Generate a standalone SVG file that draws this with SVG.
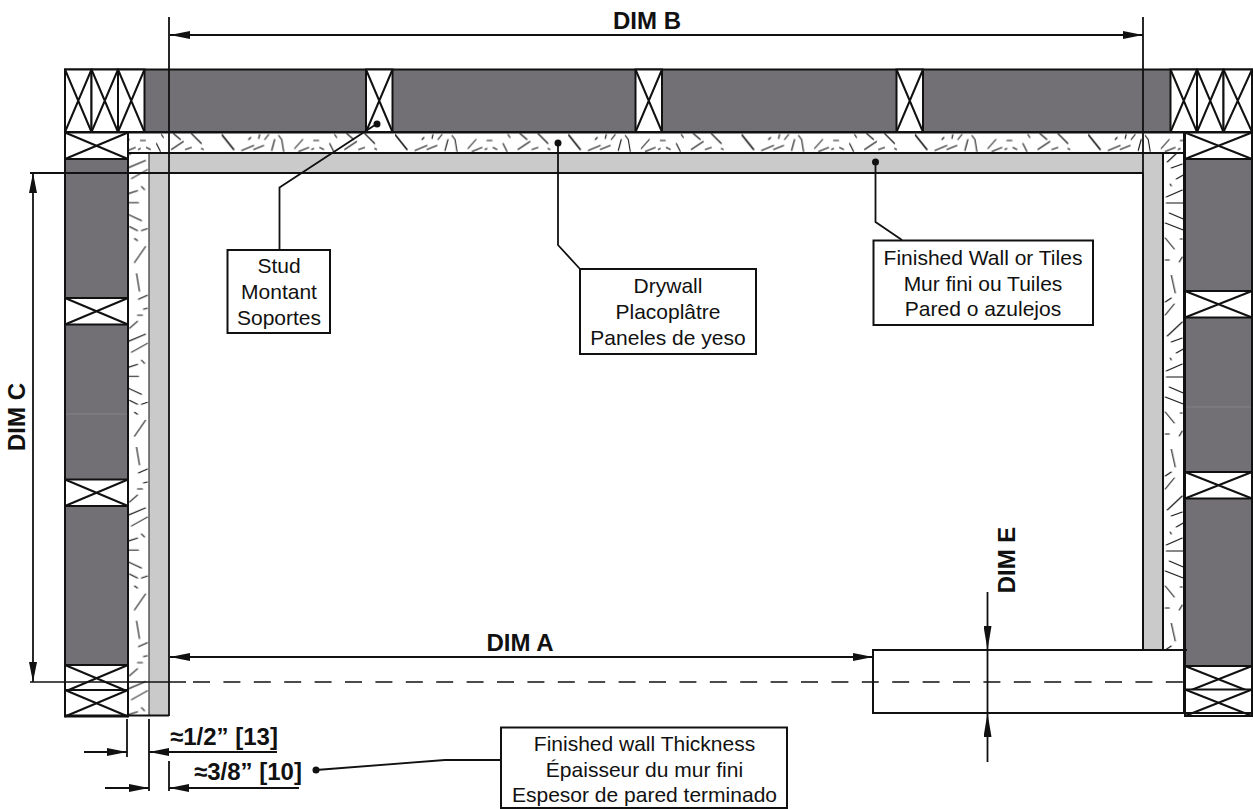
<svg xmlns="http://www.w3.org/2000/svg" width="1253" height="809" viewBox="0 0 1253 809">
<style>
text{font-family:"Liberation Sans",Arial,sans-serif;fill:#111}
.c{font-size:21px;text-anchor:middle}
.b{font-size:24px;font-weight:700}
.m{text-anchor:middle}
.dark{fill:#737075}
.fin{fill:#cacaca}
.o{fill:none;stroke:#111;stroke-width:2}
.w{fill:#fff;stroke:#111;stroke-width:2}
.t{fill:none;stroke:#111;stroke-width:2}
.l{fill:none;stroke:#111;stroke-width:1.8}
.h{stroke:#111;stroke-width:1.1;fill:none;stroke-linecap:round}
.box{fill:#fff;stroke:#111;stroke-width:2}
.dot{fill:#111}
</style>
<defs>
<pattern id="hatchTop" patternUnits="userSpaceOnUse" width="173.3" height="21" patternTransform="translate(395 132.5)">
<path class="h" style="stroke-width:1.6" d="M0 2L12 17"/>
<path class="h" d="M20 18L32 13M32 17L42 13M50 18L53 7M60 7L62 19M57 3L60 7M73 16L81 7M77 19L87 15M90 17L92 16M92 8L97 8M98 15L102 17M108 11L112 19M113 2L115 5M125 1L132 7M123 17L135 9M137 17L143 15M143 1L153 11M153 16L155 17M27 7L29 5M37 6L38 2M43 7L47 2"/>
</pattern>
<pattern id="hatchLeft" patternUnits="userSpaceOnUse" width="21" height="173.7" patternTransform="translate(128.5 273.3)">
<path class="h" d="M8 0L11 18M10 26L19 22M15 36L19 35M9 42L14 42M1 55L9 48M0 68L17 61M3 79L19 70M13 87L16 90M0 94L9 91M0 103L10 103M0 115L13 121M1 127L9 131M13 131L19 129M6 139L9 141M6 163L17 147"/>
</pattern>
<pattern id="hatchRight" patternUnits="userSpaceOnUse" width="21" height="174" patternTransform="translate(1164.3 275)">
<path class="h" d="M7 0L11 18M1 27L7 23M1 40L10 29M3 61L18 47M7 67L18 63M12 78L19 74M6 83L7 85M2 96L18 89M2 102L19 102M5 112L19 118M1 122L19 129M1 137L10 148M16 138L18 138M1 159L5 159M15 161L18 156"/>
</pattern>
<marker id="arr" viewBox="0 0 20 8" refX="20" refY="4" markerWidth="20" markerHeight="8" markerUnits="userSpaceOnUse" orient="auto-start-reverse"><path d="M0 0L20 4L0 8Z" fill="#111"/></marker>
<marker id="arrL" viewBox="0 0 24 8" refX="24" refY="4" markerWidth="24" markerHeight="8" markerUnits="userSpaceOnUse" orient="auto-start-reverse"><path d="M0 0L24 4L0 8Z" fill="#111"/></marker>
<g id="studH"><rect class="w" x="0" y="0" width="26.5" height="62.5"/><path class="t" d="M0 0L26.5 62.5M26.5 0L0 62.5"/></g>
<g id="studH2"><rect class="w" x="0" y="0" width="28.5" height="62.5"/><path class="t" d="M0 0L28.5 62.5M28.5 0L0 62.5"/></g>
<g id="studV"><rect class="w" x="0" y="0" width="63" height="26.5"/><path class="t" d="M0 0L63 26.5M63 0L0 26.5"/></g>
<g id="studVR"><rect class="w" x="0" y="0" width="67" height="26.5"/><path class="t" d="M0 0L67 26.5M67 0L0 26.5"/></g>
</defs>

<g id="top-wall">
<rect class="dark" x="65" y="69.5" width="1187" height="62.5"/>
<rect class="o" x="65" y="69.5" width="1187" height="62.5"/>
<use href="#studH" x="65" y="69.5"/><use href="#studH" x="91.5" y="69.5"/><use href="#studH" x="118" y="69.5"/>
<use href="#studH" x="366" y="69.5"/><use href="#studH" x="635.500" y="69.5"/><use href="#studH" x="896.500" y="69.5"/>
<use href="#studH" x="1170.500" y="69.5"/><use href="#studH" x="1197" y="69.5"/><use href="#studH2" x="1223.500" y="69.5"/>
</g>

<g id="left-wall">
<rect class="dark" x="65" y="159" width="63" height="506"/>
<rect class="o" x="65" y="159" width="63" height="506"/>
<path d="M66 414H127" stroke="#8b888c" stroke-width=".8"/>
<use href="#studV" x="65" y="132.500"/><use href="#studV" x="65" y="298"/><use href="#studV" x="65" y="479.500"/>
<use href="#studV" x="65" y="665"/><use href="#studV" x="65" y="690"/>
</g>

<g id="right-wall">
<rect class="dark" x="1185" y="159" width="67" height="507"/>
<rect class="o" x="1185" y="159" width="67" height="507"/>
<path d="M1186 407H1251" stroke="#8b888c" stroke-width=".8"/>
<use href="#studVR" x="1185" y="132.500"/><use href="#studVR" x="1185" y="291"/><use href="#studVR" x="1185" y="472"/>
<use href="#studVR" x="1185" y="666"/><use href="#studVR" x="1185" y="689.500"/>
</g>

<g id="drywall">
<rect x="128" y="132.500" width="1056" height="21" fill="#fff"/>
<rect x="128" y="132.500" width="1056" height="21" fill="url(#hatchTop)"/>
<rect x="128.500" y="153" width="20" height="563" fill="#fff"/>
<rect x="128.500" y="153" width="20" height="563" fill="url(#hatchLeft)"/>
<rect x="1164" y="153" width="20" height="497" fill="#fff"/>
<rect x="1164" y="153" width="20" height="497" fill="url(#hatchRight)"/>
<path class="o" d="M128 132.500H1184M128 132.500V716M1184 132.500V650"/>
</g>

<g id="finished-wall">
<rect class="fin" x="149" y="153.500" width="1014" height="19"/>
<rect class="fin" x="149" y="153" width="20" height="563"/>
<rect class="fin" x="1143" y="153" width="20" height="497"/>
<path d="M149 153V716" fill="none" stroke="#333" stroke-width="1.2"/>
<path class="o" d="M169 173H1143M1163 153V650M1143 173V650M65 715.500H169M128 153H1184"/>
<path class="l" d="M169 17V716M1143 17V173"/>
</g>

<g id="door-box">
<rect x="873" y="650" width="311" height="63" fill="#fff"/>
<path class="o" d="M1187 650H873V713H1252"/>
<path d="M1184 650V713" class="o"/>
</g>

<g id="connectors">
<path d="M193 682H1183" fill="none" stroke="#111" stroke-width="1.5" stroke-dasharray="17 13.4"/>
<path d="M30 682H186" fill="none" stroke="#111" stroke-width="1.5"/>
<path class="l" d="M30 173H169"/>
<path class="l" d="M170 35H1143" marker-start="url(#arr)" marker-end="url(#arr)"/>
<path class="l" d="M33 173V682" marker-start="url(#arr)" marker-end="url(#arr)"/>
<path class="l" d="M170 657H873" marker-start="url(#arr)" marker-end="url(#arr)"/>
<path class="l" d="M987.500 592V650" marker-end="url(#arrL)"/>
<path class="l" d="M987.500 762V713" marker-end="url(#arrL)"/>
<path class="l" d="M987.500 650V713"/>
<path class="l" d="M127 719V757M149 719V791M169 761V791"/>
<path class="l" d="M84 752H127" marker-end="url(#arr)"/>
<path class="l" d="M277 752H149" marker-end="url(#arr)"/>
<path class="l" d="M105 788H149" marker-end="url(#arr)"/>
<path class="l" d="M299 788H169" marker-end="url(#arr)"/>
<path class="l" d="M376.500 124L279.500 187.500V250"/>
<circle class="dot" cx="377" cy="124" r="3.500"/>
<path class="l" d="M558 143V245L580 269"/>
<circle class="dot" cx="558" cy="143" r="3.500"/>
<path class="l" d="M875.500 162V222L902 240"/>
<circle class="dot" cx="875.500" cy="162" r="3.500"/>
<path class="l" d="M316 770L445 760H501"/>
<circle class="dot" cx="316" cy="770" r="3.500"/>
</g>

<g id="label-stud"><rect class="box" x="227.500" y="250" width="102.500" height="83"/>
<text class="c" x="279" y="273">Stud</text><text class="c" x="279" y="299">Montant</text><text class="c" x="279" y="325">Soportes</text></g>
<g id="label-drywall"><rect class="box" x="580" y="269" width="176" height="85"/>
<text class="c" x="668" y="293">Drywall</text><text class="c" x="668" y="319">Placoplâtre</text><text class="c" x="668" y="345">Paneles de yeso</text></g>
<g id="label-finished"><rect class="box" x="873.500" y="240.500" width="219.500" height="84.500"/>
<text class="c" x="983" y="265">Finished Wall or Tiles</text><text class="c" x="983" y="291">Mur fini ou Tuiles</text><text class="c" x="983" y="316">Pared o azulejos</text></g>
<g id="label-thickness"><rect class="box" x="501" y="727.500" width="286" height="80.500"/>
<text class="c" x="644.500" y="751">Finished wall Thickness</text><text class="c" x="644.500" y="776.500">Épaisseur du mur fini</text><text class="c" x="644.500" y="801.500">Espesor de pared terminado</text></g>

<g id="dim-labels">
<text class="b m" x="647" y="29">DIM B</text>
<text class="b m" x="520" y="651">DIM A</text>
<text class="b m" transform="translate(25 417) rotate(-90)">DIM C</text>
<text class="b m" transform="translate(1015 560) rotate(-90)">DIM E</text>
<text class="b" x="170" y="745">≈1/2” [13]</text>
<text class="b" x="194" y="780">≈3/8” [10]</text>
</g>
</svg>
